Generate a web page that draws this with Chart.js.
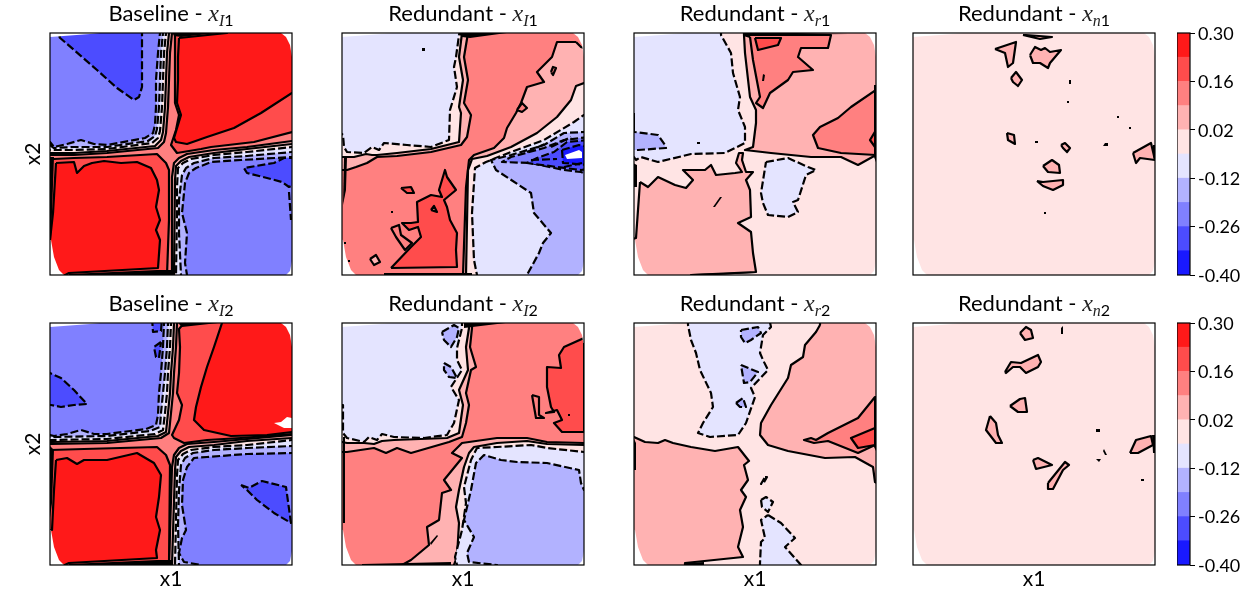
<!DOCTYPE html>
<html>
<head>
<meta charset="utf-8">
<script src="https://cdn.jsdelivr.net/npm/chart.js@4/dist/chart.umd.js"></script>
<style>
  html, body { margin:0; padding:0; background:#fff; width:1250px; height:600px; overflow:hidden; }
  canvas { position:absolute; }
  .ttl { position:absolute; width:294px; text-align:center; font:22px Lato, sans-serif; color:#000; line-height:26px; white-space:nowrap; }
  .ttl i { font:italic 24px "Liberation Serif", serif; color:#222; }
  .ttl sub { font-size:16px; line-height:0; }
  .ttl sub i { font-size:16px; }
</style>
</head>
<body>
<script>
// contour levels of the colour bar
const cbLevels = [-0.40,-0.33,-0.26,-0.19,-0.12,-0.05,0.02,0.09,0.16,0.23,0.30];
const cbTicks = [0.30,0.16,0.02,-0.12,-0.26,-0.40];
const bandColors = ['rgb(25,25,255)','rgb(76,76,255)','rgb(128,128,255)','rgb(178,178,255)','rgb(228,228,255)',
  'rgb(255,228,228)','rgb(255,178,178)','rgb(255,128,128)','rgb(255,76,76)','rgb(255,25,25)','#fff','#000'];
const WHITE = 10, BLACK = 11;

const rowTitles = ['Baseline','Redundant','Redundant','Redundant'];
const subs = [['I1','r1'],['I2','r2']];
const xLabel = 'x1', yLabel = 'x2';

const fullSquare = [[-5,-5],[247,-5],[247,247],[-5,247]];

// the sampled domain is a rounded square, its corners stay white
const cornerTL = [[-5,247],[100,247],[40,241],[0,238],[-5,238]];
const cornerTR = [[228,247],[231,242],[236,238],[240,230],[242,218],[247,216],[247,247]];
const cornerBR = [[247,14],[242,14],[240,4],[236,0],[236,-5],[247,-5]];
const cornerBL = [[-5,36],[1,35],[4,18],[9,5],[14,0],[14,-5],[-5,-5]];

// Baseline x_I1
const a1TlP09 = [[122,247],[122,242],[120,222],[119,195],[118,168],[116,142],[114,133],[108,127],[57,122],[24,120],[0,120],[-5,120],[-5,247]];
const a1TlP02 = [[119,247],[119,242],[117,222],[116,195],[115,168],[113,143],[111,135],[105,129],[57,124],[24,122],[0,122],[-5,122],[-5,247]];
const a1TlM05 = [[116,247],[116,242],[114,222],[113,195],[112,168],[110,144],[108,137],[102,132],[57,126],[24,125],[0,125],[-5,125],[-5,247]];
const a1TlM12 = [[113,247],[113,242],[111,222],[110,195],[109,168],[107,146],[105,139],[98,134],[57,128],[24,128],[4,127],[0,130],[-5,130],[-5,247]];
const a1TlM19 = [[110,247],[110,242],[108,222],[106,195],[106,168],[105,150],[103,142],[95,137],[57,130],[44,131],[31,135],[17,131],[4,128],[0,133],[-5,133],[-5,247]];
const a1TlM26 = [[9,238],[24,225],[47,205],[67,187],[84,175],[89,178],[92,188],[92,247],[16,247]];
const a1TrP16 = [[125,247],[247,247],[247,143],[242,143],[204,133],[161,128],[151,126],[127,122],[121,130],[126,145],[129,160],[125,172],[125,195],[125,218]];
const a1TrP23 = [[129,237],[177,242],[177,247],[247,247],[247,182],[242,182],[211,162],[184,147],[157,138],[137,131],[126,133],[124,137],[131,160],[127,172],[128,195],[128,218]];
const a1BrP09 = [[247,134],[242,134],[197,128],[164,125],[137,121],[129,117],[124,112],[122,98],[122,0],[122,-5],[247,-5]];
const a1BrP02 = [[247,131],[242,131],[197,126],[164,122],[139,118],[131,114],[126,109],[125,95],[124,0],[124,-5],[247,-5]];
const a1BrM05 = [[247,128],[242,128],[197,123],[164,120],[141,116],[133,112],[128,107],[127,88],[127,62],[126,0],[126,-5],[247,-5]];
const a1BrM12 = [[247,123],[242,123],[197,119],[164,117],[144,112],[136,107],[132,100],[129,75],[129,42],[131,0],[131,-5],[247,-5]];
const a1BrM19 = [[247,118],[242,118],[191,115],[161,113],[146,107],[139,102],[135,92],[132,62],[137,42],[135,12],[137,0],[137,-5],[247,-5]];
const a1BrM26 = [[247,117],[234,117],[224,112],[194,107],[197,102],[217,97],[232,93],[239,88],[247,92]];
const a1BlP16 = [[-5,116],[4,116],[24,117],[57,118],[107,121],[116,112],[119,105],[119,55],[117,0],[117,-5],[-5,-5]];
const a1BlP23 = [[6,112],[24,113],[27,102],[34,109],[42,112],[54,114],[71,112],[87,113],[101,107],[107,95],[109,85],[106,68],[110,55],[106,45],[110,35],[108,7],[19,2],[6,-5],[-5,-5],[-5,35],[0,35],[3,62]];
const a1EdgeL = [[-1,118],[4,118],[2,62],[1,35],[-1,35]];
const a1EdgeB = [[19,1],[107,5],[122,5],[122,-1],[19,-1]];
const a1EdgeT = [[122,243],[177,243],[131,238],[124,239]];
const a1Streak = [[239,83],[241,55]];

// Redundant x_I1
const a2TlP09 = [[126,247],[126,242],[122,218],[126,195],[122,172],[129,160],[125,138],[119,130],[89,123],[55,119],[35,118],[25,112],[14,108],[5,105],[-5,105],[-5,247]];
const a2TlP02 = [[120,247],[120,242],[117,218],[121,195],[117,168],[119,162],[117,133],[89,126],[55,122],[35,120],[30,120],[24,121],[12,118],[2,118],[-5,118],[-5,247]];
const a2TlM05 = [[120,247],[117,240],[114,218],[112,208],[115,188],[108,165],[107,135],[89,128],[65,130],[42,132],[37,125],[30,128],[22,122],[5,123],[2,128],[1,140],[-5,145],[-5,247]];
const a2BrP09 = [[234,233],[215,233],[210,218],[195,203],[202,193],[185,188],[179,172],[174,162],[165,147],[162,137],[152,127],[132,120],[127,115],[124,88],[121,0],[121,-5],[247,-5],[247,225],[239,228]];
const a2BrP02 = [[247,192],[242,192],[234,189],[229,175],[215,158],[195,142],[169,128],[145,119],[130,116],[126,105],[124,0],[124,-5],[247,-5]];
const a2BrM05 = [[247,160],[242,160],[232,153],[202,135],[169,123],[144,113],[133,107],[130,62],[132,15],[135,0],[135,-5],[247,-5]];
const a2BrM12 = [[247,143],[242,143],[222,142],[202,130],[169,120],[149,115],[154,105],[189,82],[192,62],[209,42],[201,32],[197,22],[185,0],[185,-5],[247,-5]];
const a2BrM19 = [[247,138],[222,135],[202,127],[169,118],[160,113],[189,112],[222,105],[239,103],[247,100]];
const a2BrM26 = [[247,135],[225,133],[212,123],[195,117],[185,112],[215,108],[239,105],[247,106]];
const a2BrM33 = [[220,125],[237,130],[247,128],[247,110],[221,112]];
const a2Blank = [[223,120],[237,125],[240,123],[240,117],[225,116]];
const a2BlP16 = [[49,7],[69,28],[79,38],[76,48],[67,45],[60,52],[69,52],[76,53],[75,73],[89,80],[100,78],[97,85],[103,105],[105,98],[114,85],[102,75],[105,68],[108,55],[115,42],[114,25],[115,8]];
const a2IsleA = [[59,87],[69,88],[72,82],[65,82]];
const a2IsleB = [[89,65],[92,69],[95,63]];
const a2IsleC = [[49,47],[57,50],[59,40],[70,32],[63,25],[54,38]];
const a2IsleD = [[28,16],[34,20],[38,13],[32,10]];
const a2IsleE = [[209,203],[211,208],[214,207],[211,200]];
const a2IsleF = [[175,165],[180,172],[185,167],[180,163]];
const a2DotA = [[80,224],[83,224],[83,227],[80,227]];
const a2DotB = [[49,62],[51,62],[51,64],[49,64]];
const a2DotC = [[6,13],[8,13],[8,15],[6,15]];
const a2DotD = [[2,31],[4,31],[4,33],[2,33]];
const a2EdgeL = [[2,118],[5,118],[4,85],[1,70]];
const a2EdgeB = [[42,2],[130,2],[130,-1],[42,-1]];
const a2EdgeT = [[115,243],[172,243],[128,237],[120,238]];
const a2StreakA = [[185,123],[205,132]];
const a2StreakB = [[209,128],[229,138]];
const a2StreakC = [[189,115],[215,116]];
const a2StreakD = [[222,108],[240,112]];

// Redundant x_r1
const a3TlM05 = [[87,247],[87,240],[97,222],[99,202],[106,178],[104,165],[111,148],[111,132],[91,122],[57,121],[24,113],[7,118],[2,115],[0,118],[-5,118],[-5,247]];
const a3TlM12 = [[-5,145],[1,143],[24,140],[31,130],[32,127],[4,125],[-5,125]];
const a3BlP09 = [[6,93],[14,88],[24,98],[41,90],[52,87],[59,95],[49,105],[71,105],[77,110],[82,100],[101,102],[108,103],[102,112],[105,122],[109,122],[108,115],[112,103],[119,103],[112,95],[116,85],[117,58],[104,52],[117,43],[119,22],[122,3],[57,0],[57,-5],[-5,-5],[-5,35],[2,37]];
const a3TrP09 = [[110,247],[110,240],[111,222],[116,178],[122,165],[122,152],[119,128],[111,125],[137,122],[177,118],[207,118],[224,110],[242,120],[247,125],[247,247]];
const a3TrP16 = [[116,238],[119,215],[126,178],[122,172],[129,167],[136,182],[154,195],[159,203],[179,205],[164,218],[167,227],[194,227],[197,240],[110,240]];
const a3TrP23 = [[121,237],[124,225],[144,230],[147,237]];
const a3RtP16 = [[247,185],[242,185],[217,168],[204,157],[186,148],[179,140],[184,127],[207,122],[242,120],[247,120]];
const a3RtP23 = [[247,145],[242,145],[236,135],[241,128],[247,128]];
const a3MidM05 = [[132,113],[154,117],[174,108],[182,105],[172,100],[164,75],[159,73],[164,63],[154,58],[134,60],[129,72],[127,82]];
const a3Streak = [[79,68],[81,68],[88,78],[86,78]];
const a3DotA = [[63,131],[66,131],[66,133],[63,133]];
const a3DotB = [[128,194],[130,194],[131,200],[129,201]];
const a3EdgeR = [[240,190],[243,190],[243,110],[240,118]];
const a3EdgeL = [[-1,112],[3,110],[3,88],[-1,88]];
const a3EdgeL2 = [[-1,162],[1,162],[1,142],[-1,142]];
const a3EdgeT = [[111,243],[214,241],[111,240]];
const a3EdgeB = [[57,1],[122,3],[122,2],[57,-1]];

// Redundant x_n1
const a4IsleA = [[82,226],[103,233],[100,212],[95,208],[92,222]];
const a4IsleB = [[110,240],[127,236],[139,238],[113,240]];
const a4IsleC = [[117,220],[122,228],[128,225],[132,227],[137,223],[148,225],[137,212],[135,207],[127,212],[120,212]];
const a4IsleD = [[98,197],[103,203],[109,195],[105,189],[100,193]];
const a4IsleE = [[94,142],[101,140],[102,131],[95,135]];
const a4IsleF = [[148,130],[152,132],[157,127],[154,123],[150,127]];
const a4IsleG = [[220,122],[238,132],[242,115],[227,117],[223,112]];
const a4IsleH = [[130,109],[139,115],[146,110],[147,102],[135,103]];
const a4IsleI = [[124,94],[130,93],[150,95],[150,90],[140,85],[130,89]];
const a4DotA = [[156,191],[158,191],[158,195],[156,195]];
const a4DotB = [[154,172],[156,172],[156,174],[154,174]];
const a4DotC = [[204,157],[206,157],[206,159],[204,159]];
const a4DotD = [[216,146],[218,146],[218,148],[216,148]];
const a4DotE = [[122,132],[125,132],[125,134],[122,134]];
const a4DotF = [[190,129],[195,129],[195,132],[192,132]];
const a4DotG = [[131,61],[133,61],[133,63],[131,63]];
const a4EdgeR = [[240,130],[243,130],[243,115],[240,118]];

// Baseline x_I2
const a5TlP09 = [[127,247],[127,242],[126,218],[124,192],[123,172],[121,152],[119,132],[111,127],[57,122],[2,121],[-5,121],[-5,247]];
const a5TlP02 = [[124,247],[124,242],[123,218],[121,192],[120,172],[118,152],[116,133],[108,129],[57,124],[2,123],[-5,123],[-5,247]];
const a5TlM05 = [[121,247],[121,242],[120,218],[118,192],[117,172],[115,152],[113,135],[105,131],[57,126],[2,125],[-5,125],[-5,247]];
const a5TlM12 = [[118,247],[118,242],[117,218],[115,192],[113,172],[111,152],[110,138],[100,134],[57,129],[2,128],[-5,128],[-5,247]];
const a5TlM19 = [[114,247],[114,242],[113,218],[111,192],[109,172],[108,150],[106,140],[96,136],[57,131],[44,131],[31,135],[17,131],[4,129],[0,130],[-5,130],[-5,247]];
const a5TlM26a = [[102,247],[103,233],[111,234],[112,247]];
const a5TlM26b = [[111,223],[104,218],[106,208],[109,207]];
const a5TlM26c = [[-5,195],[0,192],[11,187],[24,175],[37,161],[24,160],[11,158],[1,160],[-5,160]];
const a5TrP16 = [[247,131],[242,131],[191,127],[157,125],[134,122],[124,127],[122,130],[129,145],[132,160],[127,172],[129,192],[130,218],[129,236],[134,242],[134,247],[247,247]];
const a5TrP23 = [[172,247],[172,242],[164,218],[157,198],[151,178],[146,158],[144,145],[154,135],[181,129],[217,130],[242,133],[247,133],[247,247]];
const a5Blank = [[224,142],[231,143],[237,148],[242,147],[247,147],[247,137],[234,137]];
const a5BrP09 = [[247,130],[242,130],[197,126],[164,123],[137,121],[129,117],[124,110],[122,98],[119,0],[119,-5],[247,-5]];
const a5BrP02 = [[247,127],[242,127],[197,124],[164,120],[139,118],[131,114],[126,108],[125,95],[122,0],[122,-5],[247,-5]];
const a5BrM05 = [[247,125],[242,125],[197,120],[164,118],[141,115],[133,111],[128,105],[127,90],[125,0],[125,-5],[247,-5]];
const a5BrM12 = [[247,119],[242,119],[197,117],[164,115],[143,112],[135,107],[131,100],[129,75],[128,40],[129,0],[129,-5],[247,-5]];
const a5BrM19 = [[247,112],[242,112],[197,111],[157,108],[144,107],[137,98],[133,85],[132,60],[136,35],[132,27],[129,12],[134,3],[151,0],[151,-5],[247,-5]];
const a5BrM26 = [[191,80],[199,77],[212,84],[236,78],[241,42],[224,52],[207,65],[197,75]];
const a5BlP16 = [[-5,115],[0,115],[34,116],[107,118],[116,110],[120,100],[119,0],[119,-5],[-5,-5]];
const a5BlP23 = [[6,105],[17,107],[27,101],[34,105],[57,105],[87,112],[104,102],[111,90],[109,68],[106,48],[110,35],[106,15],[107,7],[19,2],[4,-5],[-5,-5],[-5,35],[2,35],[4,75]];
const a5EdgeL = [[-1,120],[4,115],[2,62],[-1,40]];
const a5EdgeB = [[19,1],[107,5],[122,5],[122,-1],[19,-1]];
const a5EdgeT = [[127,243],[177,243],[132,238]];

// Redundant x_I2
const a6TlP09 = [[130,247],[130,237],[128,218],[134,198],[129,195],[124,172],[127,160],[124,142],[120,128],[107,123],[69,112],[55,117],[44,112],[32,117],[5,113],[0,113],[-5,113],[-5,247]];
const a6TlP02 = [[127,247],[127,237],[124,218],[126,195],[117,175],[121,160],[117,132],[105,127],[52,125],[40,124],[32,121],[22,122],[5,122],[0,123],[-5,123],[-5,247]];
const a6TlM05 = [[120,247],[120,237],[115,217],[115,205],[120,195],[109,178],[117,165],[112,142],[105,130],[82,127],[52,128],[40,131],[35,125],[27,128],[22,123],[5,127],[1,132],[1,160],[-5,160],[-5,247]];
const a6TlM12a = [[100,233],[112,240],[117,237],[115,228],[109,218],[102,225]];
const a6TlM12b = [[102,202],[109,198],[115,187],[107,188],[102,195]];
const a6BrP09 = [[247,122],[242,122],[205,123],[185,127],[155,127],[120,122],[110,112],[120,107],[102,85],[109,75],[100,72],[97,45],[85,38],[87,20],[69,5],[60,0],[60,-5],[247,-5]];
const a6BrP02 = [[247,120],[242,120],[205,121],[185,124],[155,122],[132,118],[127,112],[122,98],[117,75],[114,58],[117,42],[115,8],[112,0],[112,-5],[247,-5]];
const a6BrM05 = [[247,113],[242,113],[205,117],[189,120],[155,118],[135,117],[129,105],[122,78],[124,62],[120,35],[113,8],[115,0],[115,-5],[247,-5]];
const a6BrM12 = [[247,75],[242,75],[239,82],[237,95],[205,102],[175,103],[159,105],[142,110],[134,102],[129,75],[122,45],[132,28],[125,12],[127,3],[155,0],[155,-5],[247,-5]];
const a6TrP16 = [[247,227],[242,227],[222,218],[217,210],[219,197],[205,198],[205,178],[209,158],[212,153],[204,152],[215,155],[220,145],[212,142],[220,133],[242,133],[247,133]];
const a6IsleA = [[190,170],[197,168],[197,150],[202,147],[194,147]];
const a6Streak = [[88,22],[95,30],[96,29],[89,20]];
const a6DotA = [[226,149],[228,149],[228,151],[226,151]];
const a6EdgeL = [[1,128],[3,128],[3,42],[1,42]];
const a6EdgeB = [[20,1],[109,3],[109,-1],[20,-1]];
const a6EdgeT = [[122,237],[172,243],[122,243]];
const a6EdgeR = [[241,222],[243,222],[243,133],[241,133]];

// Redundant x_r2
const a7TopM05 = [[54,247],[54,240],[57,225],[62,212],[66,195],[77,172],[79,158],[69,142],[64,132],[76,128],[104,130],[112,142],[121,168],[117,177],[134,195],[129,205],[126,212],[129,230],[137,238],[135,247]];
const a7TopM12a = [[107,235],[124,238],[127,232],[117,225],[111,222],[107,228]];
const a7TopM12b = [[107,200],[124,193],[116,183],[110,182]];
const a7TopM12c = [[102,162],[109,167],[112,158],[106,158]];
const a7LowM05a = [[127,65],[132,68],[139,63],[134,53],[128,58]];
const a7LowM05b = [[134,50],[147,42],[161,27],[151,18],[167,0],[167,-5],[126,-5],[126,2],[127,23],[131,27],[127,45]];
const a7LowM05c = [[131,88],[133,88],[129,81],[127,81]];
const a7BlP09 = [[-5,128],[0,128],[11,123],[24,122],[31,125],[39,122],[57,118],[81,114],[104,118],[115,104],[110,100],[114,85],[107,75],[112,68],[106,55],[109,38],[104,18],[109,8],[51,2],[51,-5],[-5,-5]];
const a7TrP09 = [[186,247],[186,240],[182,233],[171,220],[169,208],[157,200],[154,187],[137,160],[127,142],[126,130],[134,120],[154,114],[191,107],[221,108],[239,98],[241,83],[247,80],[247,247]];
const a7RtP16 = [[247,168],[241,168],[224,147],[194,132],[182,125],[177,127],[170,125],[180,122],[194,124],[204,120],[224,112],[241,120],[247,120]];
const a7RtP23 = [[247,137],[241,137],[217,127],[224,117],[241,120],[247,120]];
const a7EdgeL = [[-1,128],[2,122],[2,95],[-1,95]];
const a7EdgeR = [[240,168],[243,168],[243,112],[240,118]];
const a7EdgeB = [[51,2],[70,3],[70,-1],[51,-1]];

// Redundant x_n2
const a8IsleA = [[107,232],[113,238],[118,235],[120,227],[112,225]];
const a8IsleB = [[92,193],[98,203],[108,202],[125,210],[128,203],[125,198],[113,192],[107,198],[100,198],[93,192]];
const a8IsleC = [[97,159],[107,166],[112,167],[114,153],[105,153]];
const a8IsleD = [[77,149],[83,142],[85,130],[89,122],[83,122],[73,135]];
const a8IsleE = [[217,112],[223,125],[238,129],[240,120],[225,112]];
const a8IsleF = [[120,105],[125,107],[139,100],[123,96]];
const a8IsleG = [[135,82],[152,103],[156,100],[150,95],[140,76],[135,76]];
const a8DotA = [[148,231],[150,231],[150,239],[148,237]];
const a8DotB = [[183,133],[187,133],[187,136],[183,136]];
const a8DotC = [[191,116],[194,110],[192,110],[190,114]];
const a8DotD = [[183,106],[188,106],[186,103]];
const a8DotE = [[228,84],[231,84],[231,86],[228,86]];
const a8EdgeR = [[239,130],[243,130],[243,112],[240,112]];

// [band, outline], painted bottom to top
const panelLayers = [
  [[7,fullSquare],[6,a1TlP09],[5,a1TlP02],[4,a1TlM05],[3,a1TlM12],[2,a1TlM19],[1,a1TlM26],
   [8,a1TrP16],[9,a1TrP23],[6,a1BrP09],[5,a1BrP02],[4,a1BrM05],[3,a1BrM12],[2,a1BrM19],[1,a1BrM26],[8,a1BlP16],[9,a1BlP23]],
  [[7,fullSquare],[6,a2TlP09],[5,a2TlP02],[4,a2TlM05],[6,a2BrP09],[5,a2BrP02],[4,a2BrM05],[3,a2BrM12],[2,a2BrM19],[1,a2BrM26],[0,a2BrM33],[WHITE,a2Blank],
   [8,a2BlP16],[8,a2IsleA],[7,a2IsleB],[7,a2IsleC],[6,a2IsleD],[7,a2IsleE],[7,a2IsleF]],
  [[5,fullSquare],[4,a3TlM05],[3,a3TlM12],[6,a3BlP09],[6,a3TrP09],[7,a3TrP16],[8,a3TrP23],[7,a3RtP16],[8,a3RtP23],[4,a3MidM05]],
  [[5,fullSquare],[6,a4IsleA],[6,a4IsleB],[6,a4IsleC],[6,a4IsleD],[6,a4IsleE],[6,a4IsleF],[6,a4IsleG],[6,a4IsleH],[6,a4IsleI]],
  [[7,fullSquare],[6,a5TlP09],[5,a5TlP02],[4,a5TlM05],[3,a5TlM12],[2,a5TlM19],[1,a5TlM26a],[1,a5TlM26b],[1,a5TlM26c],
   [8,a5TrP16],[9,a5TrP23],[WHITE,a5Blank],[6,a5BrP09],[5,a5BrP02],[4,a5BrM05],[3,a5BrM12],[2,a5BrM19],[1,a5BrM26],[8,a5BlP16],[9,a5BlP23]],
  [[7,fullSquare],[6,a6TlP09],[5,a6TlP02],[4,a6TlM05],[3,a6TlM12a],[3,a6TlM12b],[6,a6BrP09],[5,a6BrP02],[4,a6BrM05],[3,a6BrM12],[8,a6TrP16],[7,a6IsleA]],
  [[5,fullSquare],[4,a7TopM05],[3,a7TopM12a],[3,a7TopM12b],[3,a7TopM12c],[4,a7LowM05a],[4,a7LowM05b],[4,a7LowM05c],[6,a7BlP09],[6,a7TrP09],[7,a7RtP16],[8,a7RtP23]],
  [[5,fullSquare],[6,a8IsleA],[6,a8IsleB],[6,a8IsleC],[6,a8IsleD],[6,a8IsleE],[6,a8IsleF],[6,a8IsleG]]
];
// small specks and the heavy bundles where contours pile up on the edge
const panelSpecks = [
  [a1EdgeL,a1EdgeB,a1EdgeT],
  [a2DotA,a2DotB,a2DotC,a2DotD,a2EdgeL,a2EdgeB,a2EdgeT],
  [a3Streak,a3DotA,a3DotB,a3EdgeR,a3EdgeL,a3EdgeL2,a3EdgeT,a3EdgeB],
  [a4DotA,a4DotB,a4DotC,a4DotD,a4DotE,a4DotF,a4DotG,a4EdgeR],
  [a5EdgeL,a5EdgeB,a5EdgeT],
  [a6Streak,a6DotA,a6EdgeL,a6EdgeB,a6EdgeT,a6EdgeR],
  [a7EdgeL,a7EdgeR,a7EdgeB],
  [a8DotA,a8DotB,a8DotC,a8DotD,a8DotE,a8EdgeR]
];
// open dashed contour pieces
const panelStreaks = [[a1Streak],[a2StreakA,a2StreakB,a2StreakC,a2StreakD],[],[],[],[],[],[]];

const colLeft = [50,342,634,913];
const rowTop = [33,323];
const BOX = 242, LEFT = 50, BOTTOM = 35;
const labelFont = { family:'Lato, sans-serif', size:21 };

const framePlugin = {
  id:'frame',
  afterDatasetsDraw(chart) {
    const a = chart.chartArea, c = chart.ctx;
    c.save();
    c.strokeStyle = '#000';
    c.lineWidth = 1.2;
    c.strokeRect(a.left, a.top, a.right-a.left, a.bottom-a.top);
    c.restore();
  }
};

function addCanvas(left, top, w, h) {
  const cv = document.createElement('canvas');
  cv.width = w; cv.height = h;
  cv.style.left = left+'px'; cv.style.top = top+'px';
  cv.style.width = w+'px'; cv.style.height = h+'px';
  document.body.appendChild(cv);
  return cv.getContext('2d');
}

function layerDataset(band, pts) {
  const noLine = band >= WHITE;
  return {
    data: pts.concat([pts[0]]),
    showLine: true,
    pointRadius: 0,
    tension: 0,
    fill: 'shape',
    clip: 0,
    backgroundColor: bandColors[band],
    borderColor: noLine ? 'rgba(0,0,0,0)' : '#000',
    borderWidth: noLine ? 0 : 2.2,
    borderDash: band < 5 ? [8,3] : [],
    borderJoinStyle: 'round'
  };
}

function streakDataset(pts) {
  return { data:pts, showLine:true, pointRadius:0, fill:false, clip:0, borderColor:'#000', borderWidth:2.2, borderDash:[8,3] };
}

function drawPanel(row, col) {
  const idx = row*4 + col;
  let list = panelLayers[idx].map(l => layerDataset(l[0], l[1]));
  [cornerTL,cornerTR,cornerBR,cornerBL].forEach(c => list.push(layerDataset(WHITE, c)));
  panelSpecks[idx].forEach(s => list.push(layerDataset(BLACK, s)));
  panelStreaks[idx].forEach(s => list.push(streakDataset(s)));
  list = list.reverse(); // first dataset is painted last

  const ctx = addCanvas(colLeft[col]-LEFT, rowTop[row]-33, LEFT+BOX+2, 33+BOX+BOTTOM);
  new Chart(ctx, {
    type:'scatter',
    data:{ datasets:list },
    options:{
      responsive:false,
      animation:false,
      events:[],
      layout:{ padding:{ top:33, right:2, left:0, bottom:0 } },
      plugins:{ legend:{ display:false }, tooltip:{ enabled:false } },
      scales:{
        x:{ type:'linear', min:0, max:BOX,
            grid:{ display:false }, border:{ display:false }, ticks:{ display:false },
            title:{ display:row===1, text:xLabel, color:'#000', font:labelFont, padding:{ top:0, bottom:8 } },
            afterFit(s){ s.height = BOTTOM; } },
        y:{ type:'linear', min:0, max:BOX,
            grid:{ display:false }, border:{ display:false }, ticks:{ display:false },
            title:{ display:col===0, text:yLabel, color:'#000', font:labelFont, padding:{ top:21, bottom:0 } },
            afterFit(s){ s.width = LEFT; } }
      }
    },
    plugins:[framePlugin]
  });

  const t = document.createElement('div');
  t.className = 'ttl';
  t.style.left = (colLeft[col]+BOX/2-147)+'px';
  t.style.top = (rowTop[row]-33)+'px';
  const sub = col < 2 ? subs[row][0] : (col === 2 ? subs[row][1] : 'n'+(row+1));
  t.innerHTML = rowTitles[col]+' - <i>x</i><sub><i>'+sub[0]+'</i>'+sub[1]+'</sub>';
  document.body.appendChild(t);
}

function drawColorbar(row) {
  const sets = [];
  for (let i = 0; i < cbLevels.length-1; i++) {
    sets.push({ data:[[cbLevels[i],cbLevels[i+1]]], backgroundColor:bandColors[i], borderWidth:0, grouped:false, barPercentage:1, categoryPercentage:1 });
  }
  const ctx = addCanvas(1177, rowTop[row]-33, 73, 33+BOX+20);
  new Chart(ctx, {
    type:'bar',
    data:{ labels:[''], datasets:sets },
    options:{
      responsive:false,
      animation:false,
      events:[],
      layout:{ padding:{ top:33, bottom:20, left:0, right:0 } },
      plugins:{ legend:{ display:false }, tooltip:{ enabled:false } },
      scales:{
        x:{ display:false },
        y:{ position:'right', min:-0.40, max:0.30,
            afterBuildTicks(a){ a.ticks = cbTicks.map(v => ({ value:v })); },
            grid:{ drawOnChartArea:false, drawTicks:true, tickLength:5, tickColor:'#000', tickWidth:1 },
            border:{ display:false },
            ticks:{ color:'#000', font:{ family:'Lato, sans-serif', size:18 }, padding:3, labelOffset:1, autoSkip:false, callback:v => v.toFixed(2) },
            afterFit(s){ s.width = 60; } }
      }
    },
    plugins:[framePlugin]
  });
}

for (let r = 0; r < 2; r++) {
  for (let c = 0; c < 4; c++) drawPanel(r, c);
  drawColorbar(r);
}
</script>
</body>
</html>
